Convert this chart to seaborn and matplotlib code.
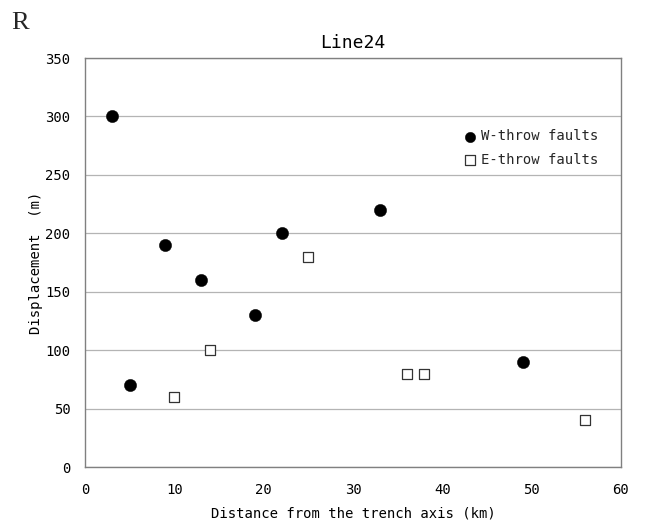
import matplotlib
matplotlib.use("Agg")
import matplotlib.pyplot as plt
import seaborn as sns
import pandas as pd

w_dist = [3, 5, 9, 13, 19, 22, 33, 49]
w_disp = [300, 70, 190, 160, 130, 200, 220, 90]
e_dist = [10, 14, 25, 36, 38, 56]
e_disp = [60, 100, 180, 80, 80, 40]
x_ticks = [0, 10, 20, 30, 40, 50, 60]
y_ticks = [0, 50, 100, 150, 200, 250, 300, 350]

sns.set_theme(style="white")
plt.rcParams['font.family'] = ['DejaVu Sans Mono', 'DejaVu Sans']

df_w = pd.DataFrame({"x": w_dist, "y": w_disp})
df_e = pd.DataFrame({"x": e_dist, "y": e_disp})

fig = plt.figure(figsize=(6.46, 5.28), dpi=100)
ax = fig.add_axes([0.1316, 0.1155, 0.8297, 0.7745])

sns.scatterplot(data=df_w, x="x", y="y", ax=ax, marker="o", color="black",
                s=78, edgecolor="black", linewidth=0.3, label="W-throw faults", zorder=3)
sns.scatterplot(data=df_e, x="x", y="y", ax=ax, marker="s", facecolor="white",
                s=55, edgecolor="#333333", linewidth=0.9, label="E-throw faults", zorder=3)

ax.set_xlim(0, 60)
ax.set_ylim(0, 350)
ax.set_xticks(x_ticks)
ax.set_yticks(y_ticks)
ax.yaxis.grid(True, color="#b4b4b4", linewidth=0.9)
ax.xaxis.grid(False)
for sp in ax.spines.values():
    sp.set_color("#808080")
    sp.set_linewidth(1.0)
ax.tick_params(axis="x", direction="in", length=5, color="#b0b0b0", labelsize=10, pad=11.5, labelcolor="black")
ax.tick_params(axis="y", length=0, labelsize=10, pad=10.5, labelcolor="black")

ax.set_xlabel("Distance from the trench axis (km)", fontsize=10, labelpad=7, color="black")
ax.set_ylabel("Displacement  (m)", fontsize=10, labelpad=2, color="black")
ax.set_title("Line24", fontsize=13, pad=7, color="black")

leg = ax.legend(loc="upper right", bbox_to_anchor=(0.957, 0.826), frameon=False,
                borderpad=0, borderaxespad=0,
                fontsize=10, handletextpad=0.3, labelspacing=0.68, handlelength=1.0)
handles = leg.legend_handles
handles[0].set_sizes([56])
handles[1].set_sizes([50])

fig.text(0.017, 0.945, "R", fontsize=19, family="Liberation Serif")

fig.savefig("out.png", dpi=100)
